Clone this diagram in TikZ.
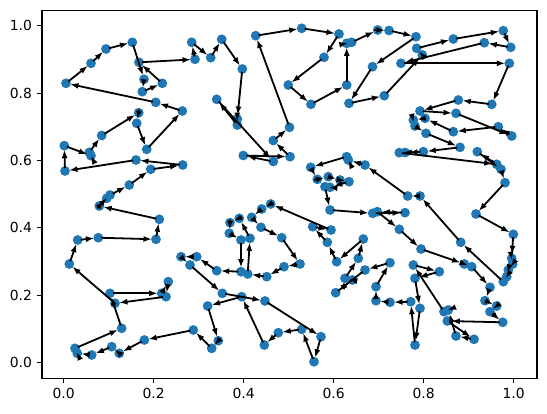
\documentclass[tikz,border=0pt]{standalone}
\usepackage{fontspec}
\setmainfont{DejaVu Sans}
\usetikzlibrary{arrows.meta}
\definecolor{tabblue}{HTML}{1F77B4}
\tikzset{
  city/.style={circle,fill=tabblue,inner sep=0pt,minimum size=9.8pt},
  hop/.style={-{Latex[length=8.5pt,width=6pt]},line width=1.8pt,shorten <=3pt,shorten >=4pt},
  axtick/.style={line width=1.1pt},
  ticklab/.style={inner sep=0pt,font=\fontsize{13.9}{16}\selectfont},
}
% tour order, pixel coordinates (y downwards)
\def\tour{66/83.3, 91/63.3, 106/49, 132.3/42.3, 144/79.3, 142.3/91.7, 162.3/83.3, 139/62.3, 195/59.3, 191.7/42.3,
210.7/57.7, 221.7/39.3, 242.3/69, 237.3/119, 237.3/125, 216.7/99.3, 273.3/161.5, 243.3/155.5, 290/156.7, 273.3/140.5,
289.5/127.3, 255.7/35.7, 301.7/28.3, 339/34, 324/57.3, 288.3/85, 311/104.3, 346.7/85, 346.7/43.3, 351.7/42.3,
377.7/30, 389/30.5, 416/36.7, 372.5/66.7, 349/103.3, 384.3/95.7, 422.3/55, 416.7/48.3, 453.3/39, 503.3/30.7,
510.7/47.3, 484.3/42.7, 401/63.3, 509.3/63.3, 491.7/104.3, 458.3/100, 420/111, 456/113.3, 511.7/136, 498.3/126.7,
453.3/131.7, 425/118.3, 413.3/120, 415/126, 426/133.3, 460/147.3, 423.3/151.7, 405/152.5, 399.3/152.7, 496.7/164.3,
477.3/151.7, 501/169.3, 505/182.7, 476/214, 513.3/234.3, 511.7/258.3, 512.7/264, 508.3/270, 506.7/276.7, 503.3/281.7,
460.7/242.3, 420/196, 407.7/196, 365/165, 348.3/160, 346.7/156.7, 310.7/167.3, 317.3/179.3, 328.3/176.7, 340/180,
349/181.7, 330/187.3, 325/186.7, 330/210, 372.7/213.3, 405/212.7, 377.3/211.7, 399.3/229.3, 421/249, 464.3/264,
471.7/266.7, 490/287.3, 485/300.7, 496.7/306, 490/311.7, 502.7/322.3, 447.3/321, 474/339.3, 456/336, 448.3/310,
444/311.7, 413.3/265, 439.3/271.7, 415/278.3, 420/308.3, 415/345, 410.7/301.7, 390/302.3, 376/300.7, 376/286.7,
390/262.7, 365/270, 335.7/292.7, 352.3/280, 345/278.3, 358.3/258.3, 363.3/239, 336.7/261.7, 327.3/242.3, 312.7/226.7,
331/230, 270.7/204, 261.7/209, 251.7/217.3, 261/227.3, 281.7/237.7, 300/264, 284/266.7, 266.7/276.7, 247.7/274,
250/238.3, 239.3/218.3, 230/222.7, 229.3/233.3, 241/240, 241/271.7, 216.7/270.7, 196.7/256.7, 181/256.7, 190/265,
222.3/293.3, 265/301, 321/336.7, 314/361.7, 301.7/329.3, 278.3/332.7, 264.3/345, 241.7/296.7, 207.7/306, 218.3/340.7,
211.7/348.3, 193.3/330, 144.3/340, 119.3/353.3, 111.7/346.7, 91.7/355, 77.3/353.3, 75/348.3, 121.7/328.3, 110/293.3,
161.7/293.3, 168.3/281.7, 166/296.7, 115/303.3, 69.3/264, 77.7/240, 98.3/237.7, 156/239.3, 159.3/219.3, 99.3/206,
106.7/198.3, 110/195, 129.3/185, 150.7/169.3, 182.7/165, 136/160, 65/171, 64.3/145.7, 91/155.7, 89.3/152.3,
101.7/135.5, 138.7/112.7, 136.7/123.3, 146.7/149.3, 182.3/111, 155.7/102.3}
\begin{document}
\begin{tikzpicture}[x=1pt,y=-1pt]
\useasboundingbox (0,0) rectangle (547,413);
% axes frame
\draw[axtick] (42,10.5) rectangle (537,378.3);
\foreach \tx/\tl in {63.6/0.0, 153.6/0.2, 243.6/0.4, 333.6/0.6, 423.6/0.8, 513.6/1.0} {
  \draw[axtick] (\tx,378.3) -- (\tx,383.2);
  \node[ticklab,anchor=north] (xl\tl) at (\tx,388) {\tl};
}
\foreach \ty/\tl in {362.6/0.0, 295.2/0.2, 227.9/0.4, 160.5/0.6, 93.2/0.8, 25.8/1.0} {
  \draw[axtick] (42,\ty) -- (37.1,\ty);
  \node[ticklab,anchor=east] (yl\tl) at (32.2,\ty) {\tl};
}
% cities
\foreach \px/\py [count=\k] in \tour {
  \node[city] (c\k) at (\px,\py) {};
  \xdef\ncity{\k}
}
% tour
\foreach \k [remember=\k as \j (initially \ncity)] in {1,...,\ncity}
  \draw[hop] (c\j.center) -- (c\k.center);
\end{tikzpicture}
\end{document}
